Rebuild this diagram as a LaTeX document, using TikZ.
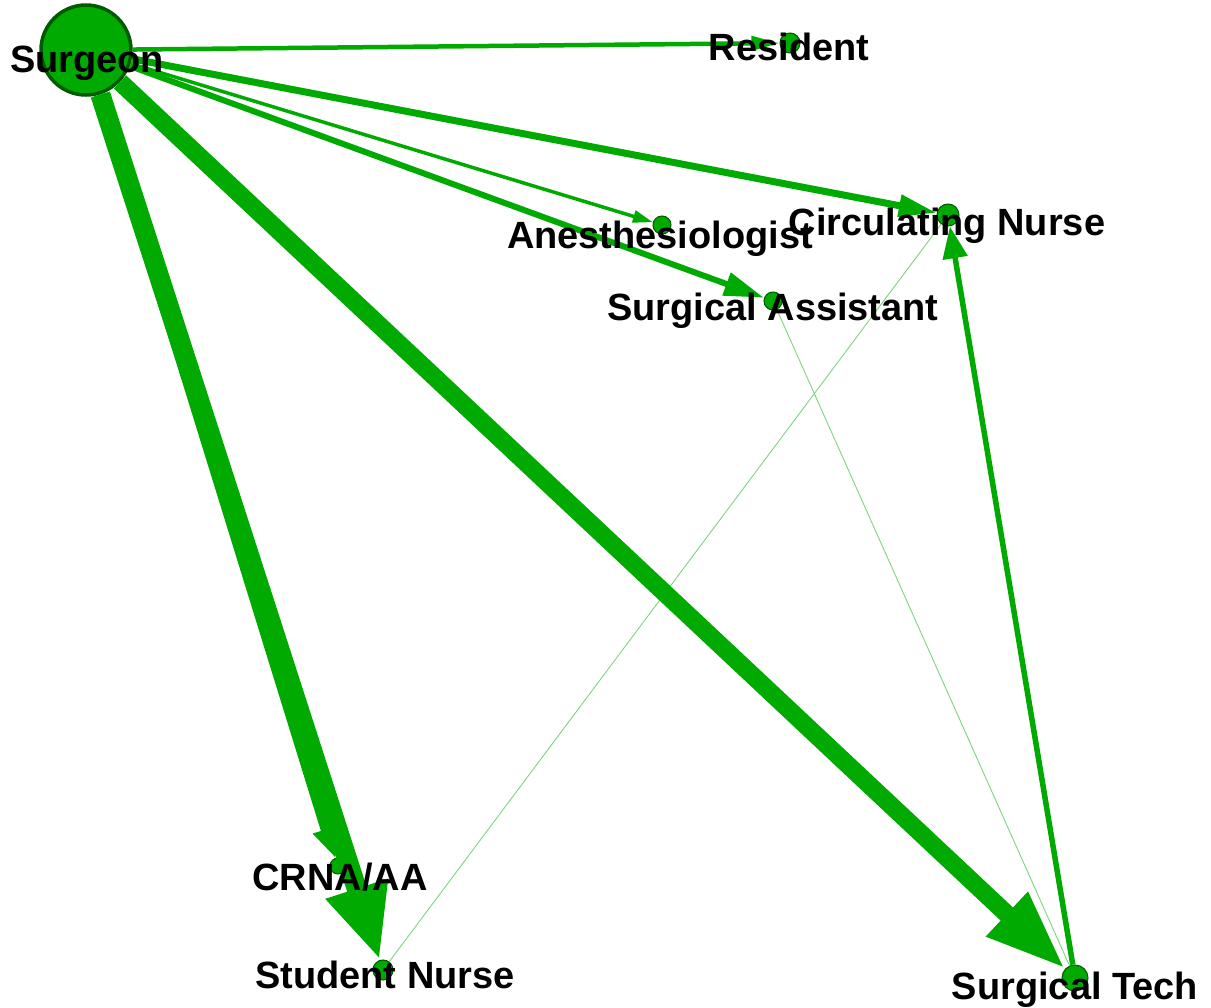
\documentclass[tikz,border=0pt]{standalone}
\usepackage{fontspec}
\setmainfont{Liberation Sans}
\usetikzlibrary{arrows.meta}
\definecolor{teamgreen}{RGB}{0,170,0}
\definecolor{rimgreen}{RGB}{0,90,0}
\definecolor{palegreen}{RGB}{125,212,125}

\begin{document}
\begin{tikzpicture}[x=0.02cm, y=-0.02cm,
  teamnode/.style = {circle, fill=teamgreen, draw=rimgreen, line width=0.6pt, inner sep=0pt, minimum size=#1},
  teamlbl/.style = {anchor=base, inner sep=0pt, font=\fontsize{21.6}{26}\selectfont\bfseries},
  teamedge/.style n args = {3}{teamgreen, line width=#1, -{Triangle[length=#2, width=#3]}},
  faintedge/.style = {palegreen, line width=0.5pt}
]
  \fill[white] (0,0) rectangle (1211,1008);
  \useasboundingbox (0,0) rectangle (1211,1008);
  % team members
  \node[teamnode=1.8cm, line width=2pt] (surgeon) at (86,50) {};
  \node[teamnode=0.4cm] (resident) at (790,43) {};
  \node[teamnode=0.36cm] (anesth) at (662,225) {};
  \node[teamnode=0.44cm] (circ) at (948,215) {};
  \node[teamnode=0.36cm] (assist) at (773,301) {};
  \node[teamnode=0.32cm] (crna) at (338,866) {};
  \node[teamnode=0.4cm] (student) at (383,970) {};
  \node[teamnode=0.52cm] (tech) at (1075,978) {};
  % weak ties
  \draw[faintedge] (student) -- (circ);
  \draw[faintedge] (assist) -- (tech);
  % ties from the surgeon
  \draw[teamedge={0.09cm}{0.56cm}{0.28cm}] (surgeon) -- (resident);
  \draw[teamedge={0.14cm}{0.76cm}{0.42cm}] (surgeon) -- (circ);
  \draw[teamedge={0.07cm}{0.4cm}{0.24cm}] (surgeon) -- (anesth);
  \draw[teamedge={0.12cm}{0.8cm}{0.46cm}] (surgeon) -- (assist);
  \draw[teamedge={0.24cm}{0.6cm}{0.54cm}] (surgeon) -- (crna);
  \draw[teamedge={0.4cm}{1.5cm}{1.2cm}] (surgeon) -- (student);
  \draw[teamedge={0.36cm}{1.6cm}{1.12cm}] (surgeon) -- (tech);
  \draw[teamedge={0.11cm}{0.64cm}{0.48cm}] (tech) -- (circ);
  % labels
  \node[teamlbl] (lsurgeon) at (87,72) {Surgeon};
  \node[teamlbl] (lresident) at (789,60) {Resident};
  \node[teamlbl] (lanesth) at (660,248) {Anesthesiologist};
  \node[teamlbl] (lcirc) at (947,235) {Circulating Nurse};
  \node[teamlbl] (lassist) at (773,320) {Surgical Assistant};
  \node[teamlbl] (lcrna) at (340,890) {CRNA/AA};
  \node[teamlbl] (lstudent) at (385,988) {Student Nurse};
  \node[teamlbl] (ltech) at (1075,999) {Surgical Tech};
\end{tikzpicture}
\end{document}
